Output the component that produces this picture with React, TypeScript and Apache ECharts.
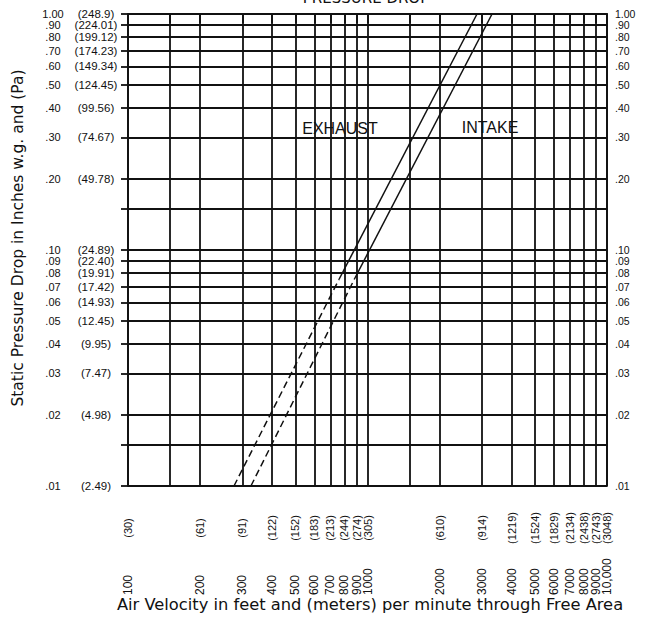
import React, { useEffect, useRef } from 'react';
import * as echarts from 'echarts';

// ---- data ----
const xTickValues = [100, 150, 200, 300, 400, 500, 600, 700, 800, 900, 1000, 1500, 2000, 3000, 4000, 5000, 6000, 7000, 8000, 9000, 10000];
const xLabelValues = [100, 200, 300, 400, 500, 600, 700, 800, 900, 1000, 2000, 3000, 4000, 5000, 6000, 7000, 8000, 9000, 10000];
const xFeetLabels = ['100', '200', '300', '400', '500', '600', '700', '800', '900', '1000', '2000', '3000', '4000', '5000', '6000', '7000', '8000', '9000', '10,000'];
const xMeterLabels = ['(30)', '(61)', '(91)', '(122)', '(152)', '(183)', '(213)', '(244)', '(274)', '(305)', '(610)', '(914)', '(1219)', '(1524)', '(1829)', '(2134)', '(2438)', '(2743)', '(3048)'];

const yTickValues = [0.01, 0.015, 0.02, 0.03, 0.04, 0.05, 0.06, 0.07, 0.08, 0.09, 0.1, 0.15, 0.2, 0.3, 0.4, 0.5, 0.6, 0.7, 0.8, 0.9, 1.0];
const yLabelValues = [0.01, 0.02, 0.03, 0.04, 0.05, 0.06, 0.07, 0.08, 0.09, 0.1, 0.2, 0.3, 0.4, 0.5, 0.6, 0.7, 0.8, 0.9, 1.0];
const yInchLabels = ['.01', '.02', '.03', '.04', '.05', '.06', '.07', '.08', '.09', '.10', '.20', '.30', '.40', '.50', '.60', '.70', '.80', '.90', '1.00'];
const yPaLabels = ['(2.49)', '(4.98)', '(7.47)', '(9.95)', '(12.45)', '(14.93)', '(17.42)', '(19.91)', '(22.40)', '(24.89)', '(49.78)', '(74.67)', '(99.56)', '(124.45)', '(149.34)', '(174.23)', '(199.12)', '(224.01)', '(248.9)'];

// [velocity fpm, pressure in. w.g.]
const exhaustDashed = [[277, 0.01], [760, 0.075]];
const exhaustSolid = [[760, 0.075], [2866, 1.0]];
const intakeDashed = [[326, 0.01], [880, 0.075]];
const intakeSolid = [[880, 0.075], [3311, 1.0]];

const L = (v: number) => Math.log10(v);
const toLog = (pts: number[][]) => pts.map(([x, y]) => [L(x), L(y)]);
function idxOf(vals: number[], v: number) {
  let best = 0;
  let bd = Infinity;
  vals.forEach((x, i) => {
    const d = Math.abs(L(x) - v);
    if (d < bd) { bd = d; best = i; }
  });
  return best;
}

const FONT = 'Liberation Sans, Arial, sans-serif';
const TFONT = 'DejaVu Sans, Verdana, sans-serif';
const INK = '#111';
const GW = 1.8;

export default function App() {
  const ref = useRef<HTMLDivElement>(null);
  useEffect(() => {
    const chart = echarts.init(ref.current!, null, { renderer: 'svg' });
    const lineSeries = (name: string, pts: number[][], dashed: boolean) => ({
      name,
      type: 'line',
      xAxisIndex: 0,
      yAxisIndex: 0,
      data: toLog(pts),
      symbol: 'none',
      silent: true,
      lineStyle: { color: INK, width: 1.5, type: dashed ? [7, 4] : 'solid' },
    });
    const topVal = yLabelValues[yLabelValues.length - 1];
    const bodyVals = yLabelValues.filter((v) => v !== topVal);
    const leftLabel = (v: number) => {
      const i = idxOf(yLabelValues, v);
      return `{a|${yInchLabels[i]}}{s| }{b|${yPaLabels[i]}}`;
    };
    const leftRich = {
      a: { width: 24, align: 'right', fontSize: 11, lineHeight: 10, fontFamily: FONT, color: INK },
      s: { width: 7, fontSize: 11, lineHeight: 10 },
      b: { width: 48, align: 'left', fontSize: 11.5, lineHeight: 10, fontFamily: FONT, color: INK },
    };
    const hiddenY = (position: string) => ({
      type: 'value', min: L(0.01), max: L(1), position,
      axisLine: { show: false }, axisTick: { show: false }, splitLine: { show: false },
    });
    // feet labels are spread over two interleaved axes so neighbours never hide each other
    const feetAxis = (parity: number) => ({
      type: 'value', min: L(100), max: L(10000), position: 'bottom',
      axisLine: { show: false }, axisTick: { show: false }, splitLine: { show: false },
      axisLabel: {
        customValues: xLabelValues.filter((_, i) => i % 2 === parity).map(L),
        rotate: 90, align: 'left', verticalAlign: 'middle', margin: 109,
        showMinLabel: true, showMaxLabel: true,
        fontSize: 12, lineHeight: 11, color: INK, fontFamily: FONT,
        formatter: (v: number) => xFeetLabels[idxOf(xLabelValues, v)],
      },
    });
    const option = {
      animation: false,
      backgroundColor: '#fff',
      textStyle: { fontFamily: FONT },
      grid: { left: 128, right: 38, top: 14, bottom: 133, containLabel: false },
      xAxis: [
        {
          type: 'value', min: L(100), max: L(10000), position: 'bottom',
          axisLine: { show: true, lineStyle: { color: INK, width: GW } },
          axisTick: { show: true, length: 9, customValues: xTickValues.map(L), lineStyle: { color: INK, width: GW } },
          splitLine: { show: true, lineStyle: { color: INK, width: GW } },
          axisLabel: {
            customValues: xLabelValues.map(L), rotate: 90, align: 'center', verticalAlign: 'middle', margin: 42,
            showMinLabel: true, showMaxLabel: true,
            fontSize: 11, lineHeight: 10, color: INK, fontFamily: FONT,
            formatter: (v: number) => xMeterLabels[idxOf(xLabelValues, v)],
          },
        },
        feetAxis(0),
        feetAxis(1),
      ],
      yAxis: [
        {
          type: 'value', min: L(0.01), max: L(1), position: 'left',
          axisLine: { show: true, lineStyle: { color: INK, width: GW } },
          axisTick: { show: true, length: 7, customValues: yTickValues.map(L), lineStyle: { color: INK, width: GW } },
          splitLine: { show: true, lineStyle: { color: INK, width: GW } },
          axisLabel: {
            customValues: bodyVals.map(L), margin: 8, color: INK,
            showMinLabel: true, showMaxLabel: true,
            formatter: leftLabel, rich: leftRich,
          },
        },
        {
          type: 'value', min: L(0.01), max: L(1), position: 'right',
          axisLine: { show: true, lineStyle: { color: INK, width: GW } },
          axisTick: { show: false }, splitLine: { show: false },
          axisLabel: {
            customValues: bodyVals.map(L), margin: 8, fontSize: 10.5, lineHeight: 10, color: INK, fontFamily: FONT,
            showMinLabel: true, showMaxLabel: true,
            formatter: (v: number) => yInchLabels[idxOf(yLabelValues, v)],
          },
        },
        {
          ...hiddenY('left'),
          axisLabel: { customValues: [L(topVal)], margin: 8, color: INK, showMaxLabel: true, formatter: leftLabel, rich: leftRich },
        },
        {
          ...hiddenY('right'),
          axisLabel: {
            customValues: [L(topVal)], margin: 8, fontSize: 10.5, lineHeight: 10, color: INK, fontFamily: FONT, showMaxLabel: true,
            formatter: (v: number) => yInchLabels[idxOf(yLabelValues, v)],
          },
        },
      ],
      series: [
        lineSeries('Exhaust', exhaustSolid, false),
        lineSeries('Exhaust (extrapolated)', exhaustDashed, true),
        lineSeries('Intake', intakeSolid, false),
        lineSeries('Intake (extrapolated)', intakeDashed, true),
      ],
      graphic: [
        { type: 'text', x: 366, y: 5, style: { text: 'PRESSURE DROP', fontSize: 15, fontFamily: TFONT, fill: INK, align: 'center', verticalAlign: 'bottom' } },
        { type: 'text', x: 18, y: 238, rotation: Math.PI / 2, style: { text: 'Static Pressure Drop in Inches w.g. and (Pa)', fontSize: 15.5, fontFamily: TFONT, fill: INK, align: 'center', verticalAlign: 'middle' } },
        { type: 'text', x: 370, y: 604, style: { text: 'Air Velocity in feet and (meters) per minute through Free Area', fontSize: 16.3, fontFamily: TFONT, fill: INK, align: 'center', verticalAlign: 'middle' } },
        { type: 'text', x: 340, y: 128, style: { text: 'EXHAUST', fontSize: 16, fontFamily: FONT, fill: INK, align: 'center', verticalAlign: 'middle' } },
        { type: 'text', x: 490, y: 127, style: { text: 'INTAKE', fontSize: 16, fontFamily: FONT, fill: INK, align: 'center', verticalAlign: 'middle' } },
      ],
    };
    chart.setOption(option as any);
    return () => chart.dispose();
  }, []);
  return <div ref={ref} style={{ position: 'absolute', left: 0, top: 0, width: 645, height: 619, background: '#fff' }} />;
}
